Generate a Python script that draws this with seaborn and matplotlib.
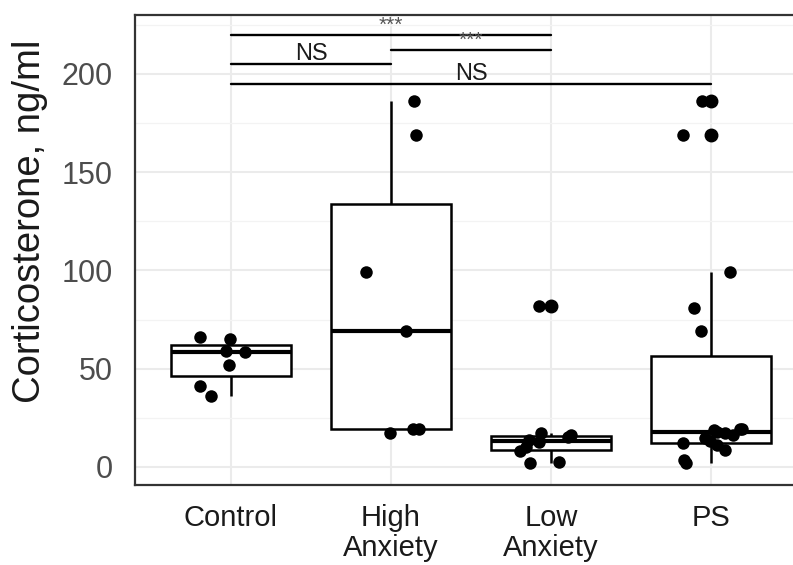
import numpy as np
import pandas as pd
import matplotlib.pyplot as plt
import seaborn as sns

sns.set(style="whitegrid")
plt.rcParams['font.family'] = ['Liberation Sans', 'DejaVu Sans']

groups = ['Control', 'High\nAnxiety', 'Low\nAnxiety', 'PS']
control = [36, 41, 52, 58.5, 59, 65, 66]
high_anxiety = [17.5, 19.5, 19.5, 69, 99, 169, 186]
low_anxiety = [2, 2.5, 8, 10, 12.5, 13.5, 15, 16, 17.5, 82]
ps = [2, 3.5, 8.5, 11, 12, 13, 14.5, 16, 17.5, 18, 19, 19.5, 19.5, 69, 81, 99, 169, 186]

# significance brackets
bracket_start = [0, 1, 0, 0]
bracket_end = [2, 2, 1, 3]
bracket_height = [219.7, 212.1, 205, 194.8]
bracket_label = ['***', '***', 'NS', 'NS']

values = [control, high_anxiety, low_anxiety, ps]
df = pd.DataFrame({
    'group': np.repeat(groups, [len(v) for v in values]),
    'value': np.concatenate(values),
})

fig = plt.figure(figsize=(7.93, 5.65), dpi=100)
ax = fig.add_axes([0.1702, 0.1416, 0.8474, 0.8319])

sns.boxplot(data=df, x='group', y='value', order=groups, width=0.75,
            color='white', linecolor='black', linewidth=1.8, whis=1.5,
            fliersize=9,
            flierprops=dict(marker='o', markerfacecolor='black', markeredgecolor='black'),
            capprops=dict(linewidth=0),
            medianprops=dict(linewidth=3, color='black'), ax=ax)

np.random.seed(11)
sns.stripplot(data=df, x='group', y='value', order=groups, color='black',
              size=9, jitter=0.2, ax=ax, zorder=5)

# brackets
for s, e, h, lab in zip(bracket_start, bracket_end, bracket_height, bracket_label):
    ax.plot([s, e], [h, h], color='black', lw=1.7, zorder=6)
    if lab == 'NS':
        ax.text((s + e) / 2, h + 2.3, lab, ha='center', va='baseline',
                fontsize=17, color='#1A1A1A', zorder=7)
    else:
        ax.text((s + e) / 2, h + 2.0, lab, ha='center', va='baseline',
                fontsize=15, color='#555555', zorder=7, clip_on=True)

ax.set_xlim(-0.6, 3.6)
ax.set_ylim(-9.2, 230)
ax.set_yticks([0, 50, 100, 150, 200])
ax.set_yticks([25, 75, 125, 175, 225], minor=True)
ax.grid(which='major', color='#EBEBEB', lw=1.5)
ax.grid(which='minor', axis='y', color='#F3F3F3', lw=0.9)
ax.set_axisbelow(True)

for sp in ax.spines.values():
    sp.set_color('#333333')
    sp.set_linewidth(1.6)

ax.tick_params(which='major', length=5, width=1.2, color='#333333')
ax.tick_params(which='minor', length=0)
ax.tick_params(axis='y', labelsize=22, labelcolor='#4D4D4D', pad=11)
ax.tick_params(axis='x', labelsize=21, labelcolor='#1A1A1A', pad=9)
for t in ax.get_xticklabels():
    t.set_linespacing(1.05)

ax.set_xlabel('')
ax.set_ylabel('Corticosterone, ng/ml', fontsize=27.5, color='#1A1A1A')
ax.yaxis.set_label_coords(-0.13, 0.56)

plt.savefig('out.png', dpi=100)
